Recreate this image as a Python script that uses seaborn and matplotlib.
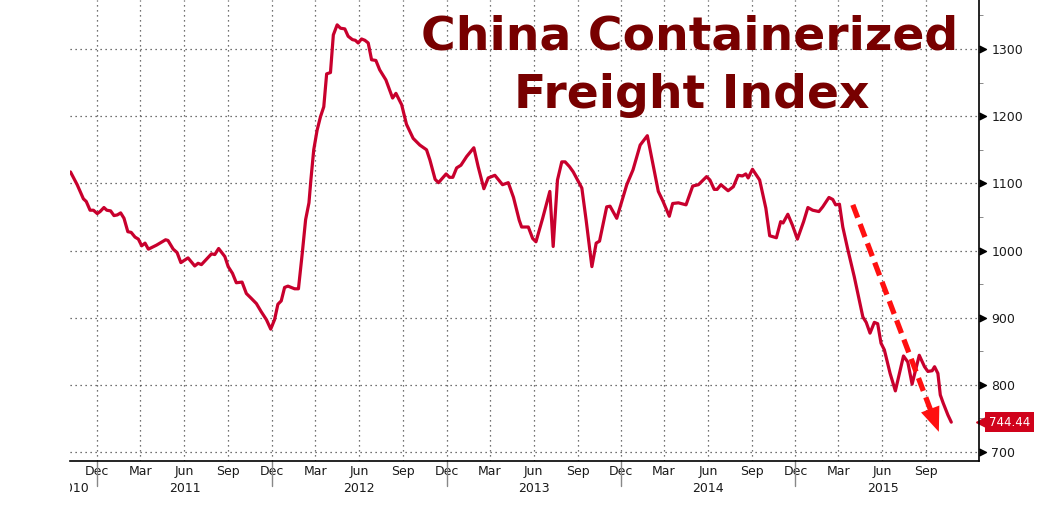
import matplotlib
matplotlib.use("Agg")
import numpy as np
import pandas as pd
import matplotlib.pyplot as plt
import matplotlib.dates as mdates
from matplotlib.patches import Rectangle
import seaborn as sns

# CCFI weekly readings
dates = [
    "2010-10-06", "2010-10-20", "2010-11-02", "2010-11-08", "2010-11-16", "2010-11-23",
    "2010-12-01", "2010-12-07", "2010-12-15", "2010-12-21", "2010-12-29",
    "2011-01-05", "2011-01-12", "2011-01-19", "2011-01-26", "2011-02-03", "2011-02-10",
    "2011-02-18", "2011-02-25", "2011-03-04", "2011-03-11", "2011-03-18", "2011-04-04",
    "2011-04-23", "2011-04-28", "2011-05-09", "2011-05-17", "2011-05-25", "2011-06-09",
    "2011-06-23", "2011-06-30", "2011-07-07", "2011-07-28", "2011-08-04", "2011-08-12",
    "2011-08-25", "2011-09-01", "2011-09-10", "2011-09-18", "2011-09-30", "2011-10-09",
    "2011-10-19", "2011-10-30", "2011-11-09", "2011-11-20", "2011-11-29", "2011-12-07",
    "2011-12-14", "2011-12-21", "2011-12-28",
    "2012-01-04", "2012-01-18", "2012-01-26", "2012-02-03", "2012-02-10", "2012-02-17",
    "2012-02-21", "2012-02-27", "2012-03-05", "2012-03-12", "2012-03-19", "2012-03-25",
    "2012-04-02", "2012-04-08", "2012-04-16", "2012-04-23", "2012-05-02", "2012-05-09",
    "2012-05-18", "2012-05-24", "2012-05-30", "2012-06-06", "2012-06-13", "2012-06-20",
    "2012-06-27", "2012-07-06", "2012-07-14", "2012-07-27", "2012-08-10", "2012-08-17",
    "2012-08-29", "2012-09-08", "2012-09-22", "2012-10-06", "2012-10-20", "2012-10-27",
    "2012-11-07", "2012-11-14", "2012-11-30", "2012-12-07", "2012-12-14", "2012-12-22",
    "2012-12-31",
    "2013-01-12", "2013-01-27", "2013-02-05", "2013-02-17", "2013-02-26", "2013-03-12",
    "2013-03-28", "2013-04-09", "2013-04-20", "2013-05-02", "2013-05-07", "2013-05-21",
    "2013-05-30", "2013-06-06", "2013-06-20", "2013-07-05", "2013-07-12", "2013-07-21",
    "2013-07-30", "2013-08-06", "2013-08-15", "2013-08-23", "2013-09-10", "2013-09-19",
    "2013-10-01", "2013-10-10", "2013-10-17", "2013-11-01", "2013-11-08", "2013-11-22",
    "2013-12-13", "2013-12-26",
    "2014-01-10", "2014-01-25", "2014-02-17", "2014-02-27", "2014-03-12", "2014-03-19",
    "2014-03-31", "2014-04-16", "2014-04-30", "2014-05-12", "2014-05-29", "2014-06-05",
    "2014-06-14", "2014-06-20", "2014-06-28", "2014-07-13", "2014-07-24", "2014-08-03",
    "2014-08-12", "2014-08-19", "2014-08-24", "2014-09-02", "2014-09-17", "2014-09-30",
    "2014-10-08", "2014-10-22", "2014-10-31", "2014-11-05", "2014-11-15", "2014-11-25",
    "2014-12-05", "2014-12-18", "2014-12-27",
    "2015-01-06", "2015-01-19", "2015-01-27", "2015-02-09", "2015-02-17", "2015-02-23",
    "2015-03-03", "2015-03-10", "2015-03-20", "2015-04-03", "2015-04-12", "2015-04-21",
    "2015-04-28", "2015-05-06", "2015-05-15", "2015-05-22", "2015-05-29", "2015-06-05",
    "2015-06-17", "2015-06-28", "2015-07-15", "2015-07-24", "2015-08-02", "2015-08-17",
    "2015-08-28", "2015-09-04", "2015-09-13", "2015-09-18", "2015-09-25", "2015-09-30",
    "2015-10-06", "2015-10-16", "2015-10-23",
]
values = [
    1117, 1098, 1077, 1073, 1060, 1060, 1055, 1058, 1064, 1060, 1059,
    1052, 1053, 1056, 1048, 1028, 1027, 1020, 1017, 1007, 1011, 1002, 1008, 1016, 1015,
    1002, 997, 982, 989, 977, 981, 979, 995, 994, 1003, 991, 976, 966, 952, 953, 936,
    929, 921, 909, 897, 883, 897, 920, 925, 945,
    947, 943, 943, 996, 1046, 1071, 1105, 1150, 1179, 1199, 1214, 1263, 1265, 1321, 1336,
    1331, 1330, 1319, 1314, 1313, 1309, 1315, 1313, 1309, 1284, 1283, 1269, 1254, 1227,
    1234, 1217, 1188, 1167, 1157, 1150, 1135, 1106, 1101, 1114, 1109, 1109, 1123, 1127,
    1140, 1153, 1125, 1092, 1108, 1112, 1098, 1101, 1079, 1045, 1035, 1035, 1018, 1013,
    1048, 1088, 1006, 1105, 1132, 1132, 1125, 1117, 1093, 1045, 976, 1011, 1014, 1065,
    1066, 1048, 1098, 1120,
    1157, 1171, 1088, 1073, 1051, 1070, 1071, 1068, 1096, 1098, 1110, 1105, 1091, 1091,
    1098, 1089, 1095, 1112, 1111, 1114, 1108, 1121, 1105, 1063, 1022, 1019, 1043, 1041,
    1054, 1037, 1017, 1043, 1064,
    1060, 1058, 1065, 1079, 1076, 1068, 1069, 1035, 1003, 961, 931, 901, 893, 877, 893,
    891, 862, 852, 817, 791, 843, 834, 801, 844, 827, 820, 821, 827, 817, 785, 773, 755,
    744.44,
]

y_ticks = [700, 800, 900, 1000, 1100, 1200, 1300]
years = [2011, 2012, 2013, 2014, 2015]
last_value = values[-1]

# trend arrow drawn on the chart (start / end)
arrow_start = ("2015-03-31", 1068)
arrow_end = ("2015-09-27", 730)

LINE = "#c8002d"
TITLE = "#780000"
ARROW = "#ff1010"

sns.set_style("white")
plt.rcParams["font.family"] = ["DejaVu Sans"]

df = pd.DataFrame({"date": pd.to_datetime(dates), "value": values})

fig = plt.figure(figsize=(10.37, 5.13), dpi=100)
ax = fig.add_axes([70 / 1037, 1 - 461 / 513, 909 / 1037, 461 / 513])

sns.lineplot(data=df, x="date", y="value", ax=ax, color=LINE, lw=2.3)

ax.set_xlim(pd.Timestamp("2010-10-05"), pd.Timestamp("2015-12-20"))
ax.set_ylim(686.6, 1373)
ax.set_xlabel("")
ax.set_ylabel("")

for s in ["top", "left"]:
    ax.spines[s].set_visible(False)
for s in ["bottom", "right"]:
    ax.spines[s].set_color("black")
    ax.spines[s].set_linewidth(1.2)

# y axis on the right
ax.yaxis.tick_right()
ax.set_yticks(y_ticks)
ax.set_yticks(np.arange(750, 1400, 100), minor=True)
ax.tick_params(axis="y", which="major", length=0, pad=9, labelsize=9, labelcolor="#1a1a1a")
ax.tick_params(axis="y", which="minor", length=3, direction="out", color="#777777")
ax.plot(np.ones(len(y_ticks)), y_ticks, ls="none", marker=[(0, -0.5), (1, 0), (0, 0.5)],
        ms=10, color="black", transform=ax.get_yaxis_transform(), clip_on=False)

# x axis: quarterly labels, monthly minor ticks
quarters = pd.date_range("2010-12-01", "2015-09-01", freq="3MS")
months = pd.date_range("2010-11-01", "2015-12-01", freq="MS")
ax.set_xticks(quarters)
ax.set_xticklabels([d.strftime("%b") for d in quarters])
ax.set_xticks(months, minor=True)
ax.tick_params(axis="x", which="both", direction="in", length=3, color="#444444",
               pad=3, labelsize=9, labelcolor="#1a1a1a")

ax.grid(True, which="major", ls=(0, (1, 3)), color="#444444", lw=0.9)

# year separators and labels
xtr = ax.get_xaxis_transform()
for y in [2010] + years[:-1]:
    d = pd.Timestamp(f"{y}-12-01")
    ax.plot([d, d], [0, -0.055], transform=xtr, color="#888888", lw=1, clip_on=False)
for y in years:
    a, b = pd.Timestamp(f"{y - 1}-12-01"), pd.Timestamp(f"{y}-12-01")
    ax.text(a + (b - a) / 2, -0.06, str(y), transform=xtr, ha="center", va="center",
            fontsize=9, color="#1a1a1a")
t = ax.text(pd.Timestamp("2010-11-14"), -0.06, "2010", transform=xtr, ha="right",
            va="center", fontsize=9, color="#1a1a1a", clip_on=True)
t.set_clip_path(Rectangle((0, -0.3), 1.2, 1.5, transform=ax.transAxes))

# last value tag
ytr = ax.get_yaxis_transform()
ax.plot([1.006], [last_value], marker="<", ms=11, color="#d0021b", ls="none",
        transform=ytr, clip_on=False)
ax.text(1.011, last_value, f"{last_value:.2f}", transform=ytr, ha="left", va="center",
        fontsize=8.5, color="white",
        bbox=dict(boxstyle="square,pad=0.3", fc="#d0021b", ec="none"))

# trend arrow: dashed shaft plus solid head
x0 = mdates.date2num(pd.Timestamp(arrow_start[0]))
x1 = mdates.date2num(pd.Timestamp(arrow_end[0]))
y0, y1 = arrow_start[1], arrow_end[1]
f_line, f_head = 0.93, 0.88
ax.plot([x0, x0 + f_line * (x1 - x0)], [y0, y0 + f_line * (y1 - y0)], color=ARROW,
        lw=3.8, ls=(0, (2.6, 1.3)), solid_capstyle="butt", dash_capstyle="butt")
ax.annotate("", xy=(x1, y1),
            xytext=(x0 + f_head * (x1 - x0), y0 + f_head * (y1 - y0)),
            arrowprops=dict(arrowstyle="-|>,head_length=0.8,head_width=0.32", color=ARROW,
                            lw=0, mutation_scale=22, shrinkA=0, shrinkB=0))

# title
fig.text(690 / 1037, 1 - 50 / 513, "China Containerized", ha="center", va="baseline",
         fontsize=34, fontweight="bold", color=TITLE)
fig.text(692 / 1037, 1 - 108 / 513, "Freight Index", ha="center", va="baseline",
         fontsize=34, fontweight="bold", color=TITLE)

fig.savefig("out.png", dpi=100)
